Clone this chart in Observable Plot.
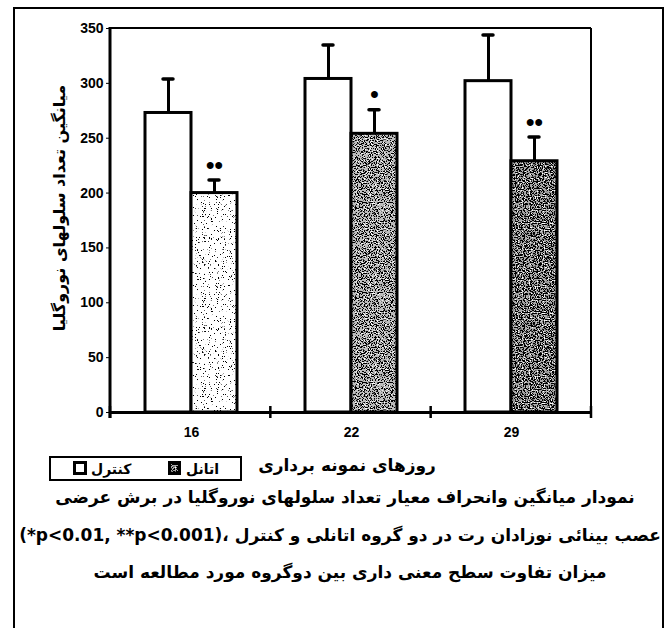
<!DOCTYPE html>
<html><head><meta charset="utf-8">
<script src="https://cdn.jsdelivr.net/npm/d3@7"></script>
<script src="https://cdn.jsdelivr.net/npm/@observablehq/plot@0.6"></script>
<style>
body{margin:0;background:#fff;}
#wrap{position:relative;width:668px;height:628px;overflow:hidden;background:#fff;}
.fa{font-family:"DejaVu Sans",sans-serif;font-weight:bold;position:absolute;white-space:nowrap;direction:rtl;color:#000;line-height:1;}
.c{transform:translate(-50%,-50%);}
#frame{position:absolute;left:13px;top:7px;width:647px;height:700px;border:2px solid #000;}
#legend{position:absolute;left:49px;top:456px;}
</style></head><body><div id="wrap"><div id="frame"></div></div>
<script>
// ---- data ----
const days = ["16", "22", "29"];
const groups = ["کنترل", "اتانل"];           // control, ethanol
const controlMean = [273, 304, 302];
const controlSD   = [31, 31, 42];
const ethanolMean = [200, 254, 229];
const ethanolSD   = [12, 22, 22];
const ethanolSig  = ["••", "•", "••"];
const yTicks = [0, 50, 100, 150, 200, 250, 300, 350];
const yLabel = "میانگین تعداد سلولهای نوروگلیا";
const xLabel = "روزهای نمونه برداری";
const captionLines = [
  "نمودار  میانگین وانحراف معیار تعداد سلولهای نوروگلیا در برش عرضی",
  "عصب بینائی نوزادان رت در دو گروه اتانلی و کنترل ،\u2066(*p<0.01, **p<0.001)\u2069",
  "میزان تفاوت سطح معنی داری بین دوگروه مورد مطالعه است"
];

const data = days.flatMap((day, i) => [
  {day, group: groups[0], mean: controlMean[i], sd: controlSD[i], sig: ""},
  {day, group: groups[1], mean: ethanolMean[i], sd: ethanolSD[i], sig: ethanolSig[i]}
]);
const fillFor = d => d.group === groups[0] ? "white" : `url(#stip${d.day})`;

const plot = Plot.plot({
  width: 668, height: 628,
  marginTop: 28, marginRight: 77, marginBottom: 216, marginLeft: 110,
  style: {fontFamily: '"Liberation Sans", Arial, sans-serif', fontSize: "14px", fontWeight: "bold", color: "#000", background: "white", overflow: "visible"},
  fx: {domain: days, padding: 0, label: null, axis: "bottom", tickSize: 0, tickPadding: 15},
  x: {domain: groups, axis: null, paddingInner: 0, paddingOuter: 0.706},
  y: {domain: [0, 350], ticks: yTicks, tickSize: 5, tickPadding: 3, label: null, tickFormat: d => String(d)},
  marks: [
    Plot.barY(data, {fx: "day", x: "group", y: "mean", fill: fillFor, stroke: "black", strokeWidth: 3}),
    Plot.ruleX(data, {fx: "day", x: "group", y1: "mean", y2: d => d.mean + d.sd, stroke: "black", strokeWidth: 3}),
    Plot.tickY(data, {fx: "day", x: "group", y: d => d.mean + d.sd, stroke: "black", strokeWidth: 3.5, strokeLinecap: "round", insetLeft: 18, insetRight: 18}),
    Plot.text(data, {fx: "day", x: "group", y: d => d.mean + d.sd, text: "sig", dy: -15, fontSize: 24, fill: "black"}),
    Plot.ruleY([0], {stroke: "black", strokeWidth: 3})
  ]
});

const wrap = document.getElementById("wrap");
wrap.insertBefore(plot, wrap.firstChild);

// textures for the ethanol bars
const svg = d3.select(plot);
function stip(id, bg, blackA, blackB, whiteA, whiteB, seed) {
  return `<filter id="f${id}" color-interpolation-filters="sRGB" x="0" y="0" width="100%" height="100%">
    <feTurbulence type="fractalNoise" baseFrequency="0.85" numOctaves="2" seed="${seed}" result="n"/>
    <feColorMatrix in="n" type="matrix" values="0 0 0 0 1  0 0 0 0 1  0 0 0 0 1  ${whiteA} 0 0 0 ${whiteB}" result="w"/>
    <feColorMatrix in="n" type="matrix" values="0 0 0 0 0  0 0 0 0 0  0 0 0 0 0  ${blackA} 0 0 0 ${blackB}" result="b"/>
    <feMerge><feMergeNode in="w"/><feMergeNode in="b"/></feMerge>
  </filter>
  <pattern id="stip${id}" patternUnits="userSpaceOnUse" width="90" height="90">
    <rect width="90" height="90" fill="${bg}"/>
    <rect width="90" height="90" fill="#fff" filter="url(#f${id})"/>
  </pattern>`;
}
svg.insert("defs", ":first-child").html(
  stip("16", "#ffffff", -20, 7.0, 0, 0, 3) +
  stip("22", "#bdbdbd", -20, 9.6, 20, -12.8, 7) +
  stip("29", "#a8a8a8", -20, 10.2, 20, -13.2, 11)
);

// frame of the plot area and axis lines, from the plot's scales
const fx = plot.scale("fx"), ys = plot.scale("y");
const [xL, xR] = fx.range;
const [yB, yT] = ys.range;
const step = (xR - xL) / fx.domain.length;
const g = svg.append("g").attr("stroke", "black").attr("fill", "none");
g.append("line").attr("x1", xL).attr("x2", xR).attr("y1", yT).attr("y2", yT).attr("stroke-width", 2);
g.append("line").attr("x1", xR).attr("x2", xR).attr("y1", yT).attr("y2", yB).attr("stroke-width", 2);
g.append("line").attr("x1", xL).attr("x2", xL).attr("y1", yT - 1).attr("y2", yB + 6).attr("stroke-width", 3);
d3.range(fx.domain.length + 1).forEach(i => {
  const x = xL + i * step;
  g.append("line").attr("x1", x).attr("x2", x).attr("y1", yB - 6).attr("y2", yB + 6).attr("stroke-width", 2.5);
});

// texts
function addText(txt, cx, cy, size, extra) {
  const d = document.createElement("div");
  d.className = "fa c";
  d.textContent = txt;
  d.style.left = cx + "px"; d.style.top = cy + "px"; d.style.fontSize = size + "px";
  if (extra) d.style.transform = extra;
  wrap.appendChild(d);
  return d;
}
addText(yLabel, 60, 208, 16, "translate(-50%,-50%) rotate(-90deg)");
addText(xLabel, 347, 465, 17);
addText(captionLines[0], 345, 497, 17);
addText(captionLines[1], 340, 535, 17);
addText(captionLines[2], 350, 572, 17);

// legend
const leg = document.createElement("div");
leg.id = "legend";
leg.innerHTML = `<svg width="193" height="25" style="display:block;overflow:visible">
  <rect x="1" y="1" width="191" height="23" fill="white" stroke="black" stroke-width="2"/>
  <rect x="25.5" y="6.5" width="11" height="11" fill="white" stroke="black" stroke-width="3"/>
  <rect x="120.5" y="6.5" width="10" height="11" fill="url(#stip29)" stroke="black" stroke-width="3"/>
  <text x="42" y="17.5" font-family="DejaVu Sans" font-weight="bold" font-size="14">${groups[0]}</text>
  <text x="137" y="17.5" font-family="DejaVu Sans" font-weight="bold" font-size="14">${groups[1]}</text>
</svg>`;
wrap.appendChild(leg);
</script></body></html>
